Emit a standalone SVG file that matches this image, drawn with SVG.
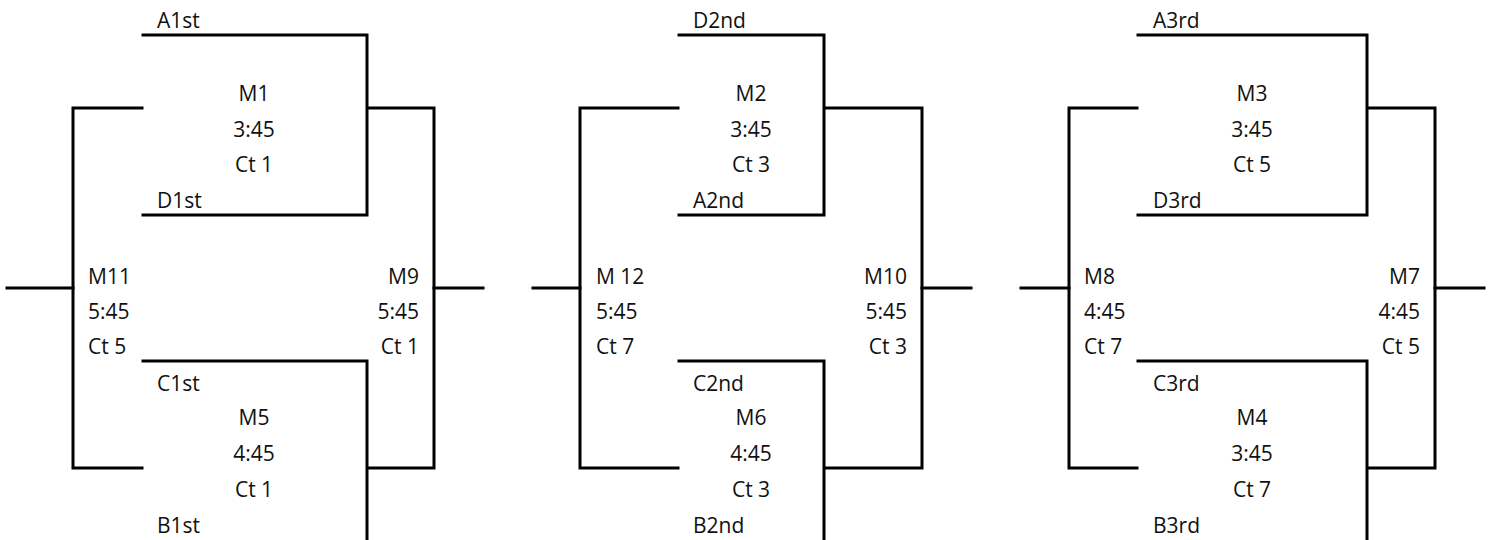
<svg xmlns="http://www.w3.org/2000/svg" width="1491" height="540" viewBox="0 0 1491 540">
<style>
  .ln { fill: none; stroke: #000; stroke-width: 3; stroke-linecap: square; stroke-linejoin: miter; }
  text { font-family: "Open Sans", "Liberation Sans", sans-serif; font-size: 21px; fill: #111; }
  .c { text-anchor: middle; }
  .r { text-anchor: end; }
</style>
<rect x="0" y="0" width="1491" height="540" fill="#fff"/>
<g id="connectors">
  <!-- bracket 1 -->
  <path class="ln" d="M143,35 H367 V215 H143"/>
  <path class="ln" d="M143,361 H367 V541"/>
  <path class="ln" d="M142,108 H73 V468 H142"/>
  <path class="ln" d="M368,108 H434 V468 H368"/>
  <path class="ln" d="M7,288 H73"/>
  <path class="ln" d="M434,288 H483"/>
  <!-- bracket 2 -->
  <path class="ln" d="M679,35 H824 V215 H679"/>
  <path class="ln" d="M679,361 H824 V541"/>
  <path class="ln" d="M678,108 H580 V468 H678"/>
  <path class="ln" d="M825,108 H922 V468 H825"/>
  <path class="ln" d="M533,288 H580"/>
  <path class="ln" d="M922,288 H971"/>
  <!-- bracket 3 -->
  <path class="ln" d="M1138,35 H1367 V215 H1138"/>
  <path class="ln" d="M1138,361 H1367 V541"/>
  <path class="ln" d="M1137,108 H1069 V468 H1137"/>
  <path class="ln" d="M1368,108 H1435 V468 H1368"/>
  <path class="ln" d="M1021,288 H1069"/>
  <path class="ln" d="M1435,288 H1484"/>
</g>
<g id="m1">
  <text x="157" y="28">A1st</text>
  <text class="c" x="254" y="101">M1</text>
  <text class="c" x="254" y="137">3:45</text>
  <text class="c" x="254" y="172">Ct 1</text>
  <text x="157" y="208">D1st</text>
</g>
<g id="m5">
  <text x="157" y="391">C1st</text>
  <text class="c" x="254" y="425">M5</text>
  <text class="c" x="254" y="461">4:45</text>
  <text class="c" x="254" y="497">Ct 1</text>
  <text x="157" y="533">B1st</text>
</g>
<g id="m11">
  <text x="88" y="284">M11</text>
  <text x="88" y="319">5:45</text>
  <text x="88" y="354">Ct 5</text>
</g>
<g id="m9">
  <text class="r" x="419" y="284">M9</text>
  <text class="r" x="419" y="319">5:45</text>
  <text class="r" x="419" y="354">Ct 1</text>
</g>
<g id="m2">
  <text x="693" y="28">D2nd</text>
  <text class="c" x="751" y="101">M2</text>
  <text class="c" x="751" y="137">3:45</text>
  <text class="c" x="751" y="172">Ct 3</text>
  <text x="693" y="208">A2nd</text>
</g>
<g id="m6">
  <text x="693" y="391">C2nd</text>
  <text class="c" x="751" y="425">M6</text>
  <text class="c" x="751" y="461">4:45</text>
  <text class="c" x="751" y="497">Ct 3</text>
  <text x="693" y="533">B2nd</text>
</g>
<g id="m12">
  <text x="596" y="284">M 12</text>
  <text x="596" y="319">5:45</text>
  <text x="596" y="354">Ct 7</text>
</g>
<g id="m10">
  <text class="r" x="907" y="284">M10</text>
  <text class="r" x="907" y="319">5:45</text>
  <text class="r" x="907" y="354">Ct 3</text>
</g>
<g id="m3">
  <text x="1153" y="28">A3rd</text>
  <text class="c" x="1252" y="101">M3</text>
  <text class="c" x="1252" y="137">3:45</text>
  <text class="c" x="1252" y="172">Ct 5</text>
  <text x="1153" y="208">D3rd</text>
</g>
<g id="m4">
  <text x="1153" y="391">C3rd</text>
  <text class="c" x="1252" y="425">M4</text>
  <text class="c" x="1252" y="461">3:45</text>
  <text class="c" x="1252" y="497">Ct 7</text>
  <text x="1153" y="533">B3rd</text>
</g>
<g id="m8">
  <text x="1084" y="284">M8</text>
  <text x="1084" y="319">4:45</text>
  <text x="1084" y="354">Ct 7</text>
</g>
<g id="m7">
  <text class="r" x="1420" y="284">M7</text>
  <text class="r" x="1420" y="319">4:45</text>
  <text class="r" x="1420" y="354">Ct 5</text>
</g>
</svg>
